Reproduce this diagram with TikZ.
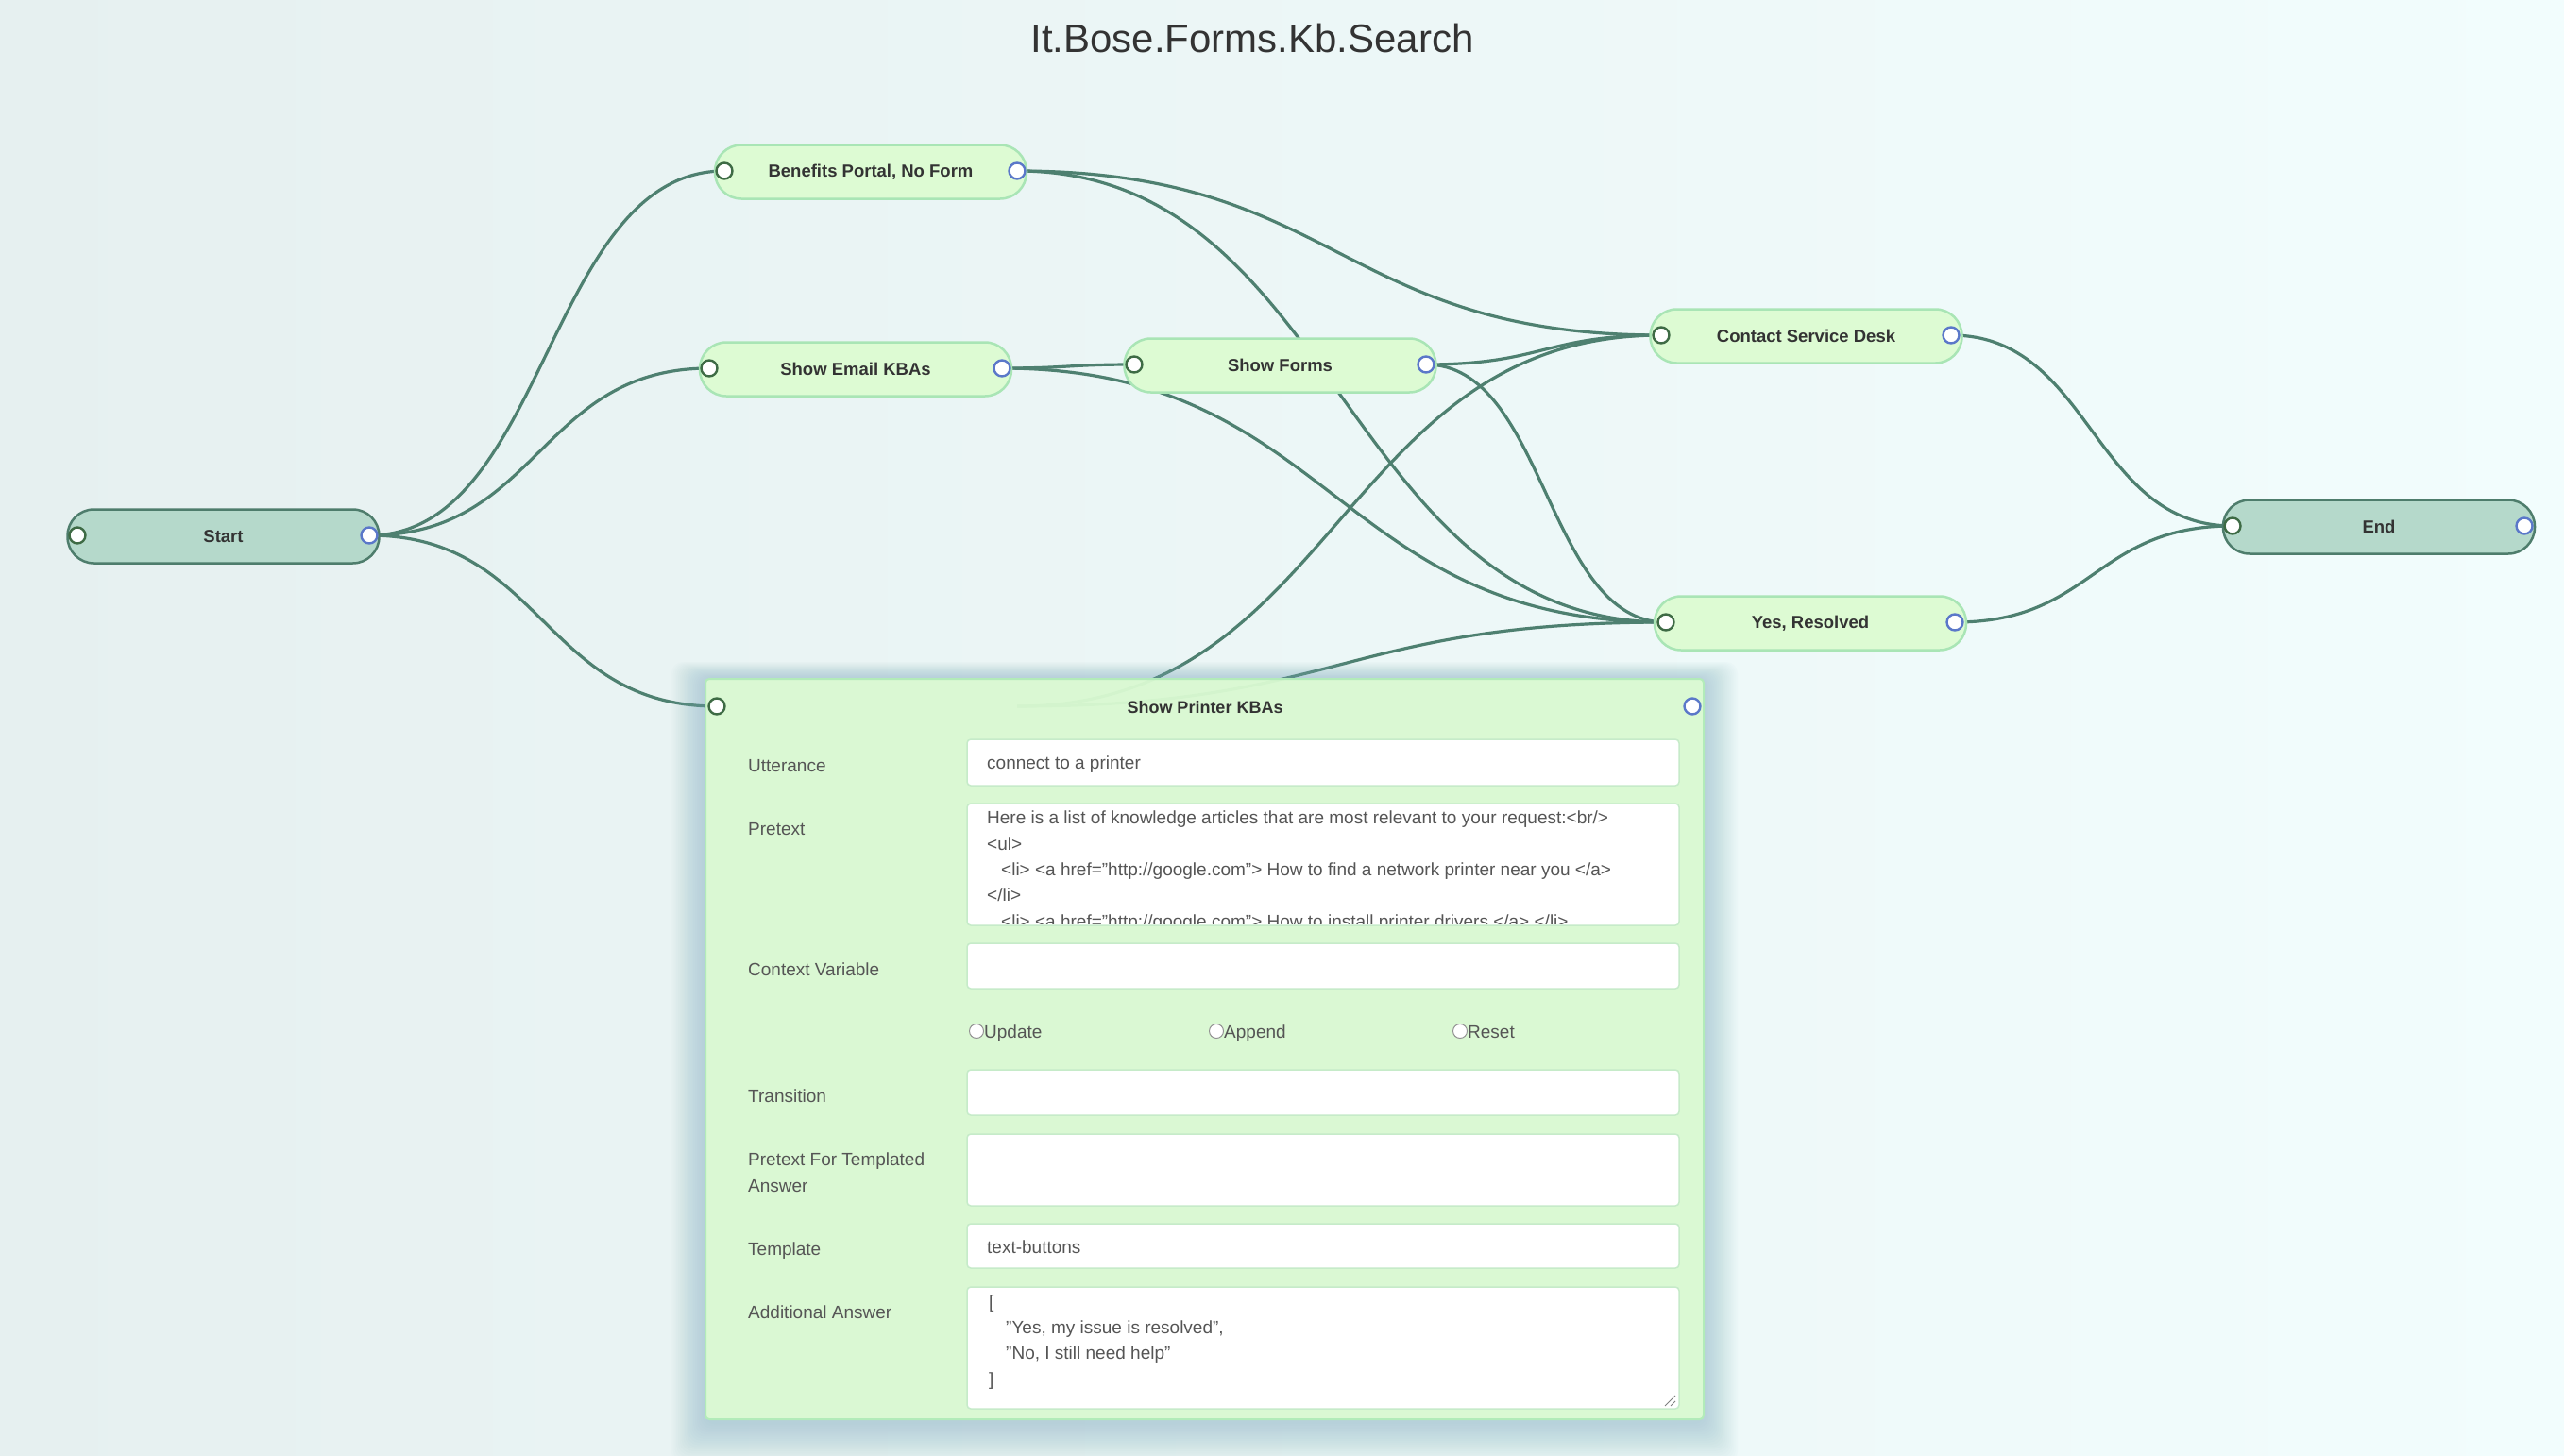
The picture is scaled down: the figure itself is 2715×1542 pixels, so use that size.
\documentclass[tikz,border=0pt]{standalone}
\usepackage{fontspec}
\setmainfont{Liberation Sans}
\usetikzlibrary{calc}
\definecolor{bgl}{HTML}{E6F0F0}
\definecolor{bgr}{HTML}{F2FDFD}
\definecolor{titlec}{HTML}{333333}
\definecolor{nodefill}{HTML}{DDFBD3}
\definecolor{nodeline}{HTML}{A9E5B5}
\definecolor{sefill}{HTML}{B5D9CB}
\definecolor{seline}{HTML}{4E7D6C}
\definecolor{edgec}{HTML}{4E8070}
\definecolor{portin}{HTML}{3E6B45}
\definecolor{portout}{HTML}{5B78C9}
\definecolor{panelfill}{HTML}{DDFCD3}
\definecolor{panelline}{HTML}{B2EBB9}
\definecolor{fieldline}{HTML}{C6EBC9}
\definecolor{labelc}{HTML}{555555}
\definecolor{glowc}{HTML}{7FB0C2}
\tikzset{
  edge/.style={draw=edgec, line width=3.2pt},
  flownode/.style={rectangle, rounded corners=28pt, draw=nodeline, fill=nodefill, line width=2.5pt,
     minimum width=330pt, minimum height=57pt, text=titlec, font=\fontsize{18.5}{22}\selectfont\bfseries},
  senode/.style={flownode, draw=seline, fill=sefill},
  portinst/.style={circle, draw=portin, fill=white, line width=2.4pt, minimum size=17pt, inner sep=0pt},
  portoutst/.style={circle, draw=portout, fill=white, line width=2.4pt, minimum size=17pt, inner sep=0pt},
  lbl/.style={anchor=mid west, inner sep=0pt, text=labelc, font=\fontsize{19}{22}\selectfont},
  ftxt/.style={anchor=mid west, inner sep=0pt, text=labelc, font=\fontsize{19}{22}\selectfont},
  field/.style={draw=fieldline, fill=white, line width=1.5pt, rounded corners=4pt},
  radio/.style={circle, draw=gray!85, fill=white, line width=1pt, minimum size=15pt, inner sep=0pt},
}
\newcommand{\flowedge}[2]{%
  \path ($(#1)!0.5!(#2)$) coordinate (fm);
  \draw[edge] (#1) .. controls (fm |- #1) and (fm |- #2) .. (#2);}
\begin{document}
\begin{tikzpicture}[x=1pt,y=-1pt]
\useasboundingbox (0,0) rectangle (2715,1542);
\shade[left color=bgl, right color=bgr] (0,0) rectangle (2715,1542);

% title
\node[text=titlec, font=\fontsize{42}{50}\selectfont, inner sep=0pt] (title) at (1326,40) {It.Bose.Forms.Kb.Search};

% port coordinates
\coordinate (start-o) at (391,567);
\coordinate (start-i) at (82,567);
\coordinate (ben-i) at (767,181);
\coordinate (ben-o) at (1077,181);
\coordinate (email-i) at (751,390);
\coordinate (email-o) at (1061,390);
\coordinate (forms-i) at (1201,386);
\coordinate (forms-o) at (1510,386);
\coordinate (cont-i) at (1759,355);
\coordinate (cont-o) at (2066,355);
\coordinate (yes-i) at (1764,659);
\coordinate (yes-o) at (2070,659);
\coordinate (end-i) at (2364,557);
\coordinate (end-o) at (2673,557);
\coordinate (prn-i) at (759,748);
\coordinate (prn-o) at (1792,748);
\coordinate (prn-old) at (1077,748);

% edges
\flowedge{start-o}{ben-i}
\flowedge{start-o}{email-i}
\flowedge{start-o}{prn-i}
\flowedge{ben-o}{cont-i}
\flowedge{ben-o}{yes-i}
\flowedge{email-o}{forms-i}
\flowedge{email-o}{yes-i}
\flowedge{forms-o}{cont-i}
\flowedge{forms-o}{yes-i}
\flowedge{prn-old}{cont-i}
\flowedge{prn-old}{yes-i}
\flowedge{cont-o}{end-i}
\flowedge{yes-o}{end-i}

% nodes
\node[senode] (start) at (236.5,568) {Start};
\node[flownode] (ben) at (922,182) {Benefits Portal, No Form};
\node[flownode] (email) at (906,391) {Show Email KBAs};
\node[flownode] (forms) at (1355.5,387) {Show Forms};
\node[flownode] (cont) at (1912.5,356) {Contact Service Desk};
\node[flownode] (yes) at (1917,660) {Yes, Resolved};
\node[senode] (end) at (2519,558) {End};

% panel glow
\foreach \i in {1,...,20}{
  \fill[glowc, opacity=0.028, rounded corners=12pt] (747-1.8*\i,719-0.9*\i) rectangle (1804+1.8*\i,1506+2.2*\i);
}
% panel
\draw[draw=panelline, fill=panelfill, fill opacity=0.93, line width=2pt, rounded corners=4pt] (747,719) rectangle (1804,1503);
\node[text=titlec, font=\fontsize{18}{21}\selectfont\bfseries, inner sep=0pt] (prntitle) at (1276,749) {Show Printer KBAs};

% fields
\draw[field] (1024,783) rectangle (1778,832);
\draw[field] (1024,851) rectangle (1778,980);
\draw[field] (1024,999) rectangle (1778,1047);
\draw[field] (1024,1133) rectangle (1778,1181);
\draw[field] (1024,1201) rectangle (1778,1277);
\draw[field] (1024,1296) rectangle (1778,1343);
\draw[field] (1024,1363) rectangle (1778,1492);

% labels
\node[lbl] (l1) at (792,815) {Utterance};
\node[lbl] (l2) at (792,882) {Pretext};
\node[lbl] (l3) at (792,1031) {Context Variable};
\node[lbl] (l4) at (792,1165) {Transition};
\node[lbl] (l5) at (792,1232) {Pretext For Templated};
\node[lbl] (l6) at (792,1260) {Answer};
\node[lbl] (l7) at (792,1327) {Template};
\node[lbl] (l8) at (792,1394) {Additional Answer};

% field texts
\node[ftxt] (t1) at (1045,812) {connect to a printer};
\begin{scope}
\clip (1024,851) rectangle (1778,978);
\node[ftxt] (p1) at (1045,870) {Here is a list of knowledge articles that are most relevant to your request:<br/>};
\node[ftxt] (p2) at (1045,898) {<ul>};
\node[ftxt] (p3) at (1060,925) {<li> <a href="http://google.com"> How to find a network printer near you </a>};
\node[ftxt] (p4) at (1045,952) {</li>};
\node[ftxt] (p5) at (1060,980) {<li> <a href="http://google.com"> How to install printer drivers </a> </li>};
\end{scope}

% radios
\node[radio] (r1) at (1034,1092) {};
\node[ftxt] (rt1) at (1042,1097) {Update};
\node[radio] (r2) at (1288,1092) {};
\node[ftxt] (rt2) at (1296,1097) {Append};
\node[radio] (r3) at (1546,1092) {};
\node[ftxt] (rt3) at (1554,1097) {Reset};

\node[ftxt] (t2) at (1045,1325) {text-buttons};
\node[ftxt] (a1) at (1047,1383) {[};
\node[ftxt] (a2) at (1065,1410) {"Yes, my issue is resolved",};
\node[ftxt] (a3) at (1065,1437) {"No, I still need help"};
\node[ftxt] (a4) at (1047,1465) {]};
\draw[gray, line width=0.8pt] (1763,1489) -- (1774,1478) (1769,1489) -- (1774,1484);

% ports
\foreach \p in {start-i,ben-i,email-i,forms-i,cont-i,yes-i,end-i,prn-i}{
  \node[portinst] at (\p) {};
}
\foreach \p in {start-o,ben-o,email-o,forms-o,cont-o,yes-o,end-o,prn-o}{
  \node[portoutst] at (\p) {};
}
\end{tikzpicture}
\end{document}
